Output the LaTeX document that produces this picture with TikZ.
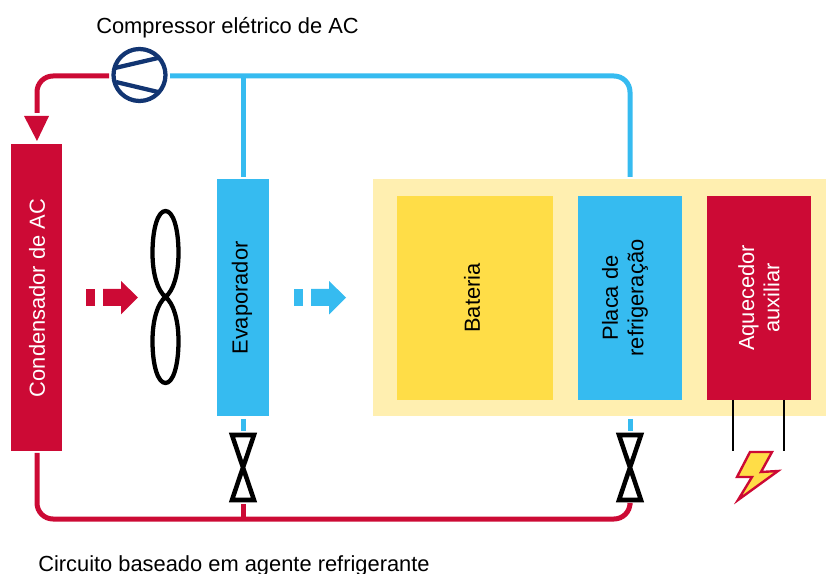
\documentclass[tikz,border=0pt]{standalone}
\usepackage{fontspec}
\setmainfont{Liberation Sans}
\definecolor{cred}{HTML}{CC0A35}
\definecolor{cblue}{HTML}{36BBF0}
\definecolor{cyel}{HTML}{FFDD47}
\definecolor{cpale}{HTML}{FFEFB0}
\definecolor{cnavy}{HTML}{123572}
\tikzset{
  x=0.75pt,y=-0.75pt,
  vlabel/.style={rotate=90,font=\fontsize{16.4}{19}\selectfont,align=center,inner sep=0pt},
  redline/.style={draw=cred,line width=3.75pt,rounded corners=12pt},
  blueline/.style={draw=cblue,line width=3.75pt,rounded corners=12pt},
  valve/.style={draw=black,line width=3.4pt,miter limit=6},
  blockarrow/.style={fill=#1,draw=none},
  caption/.style={font=\fontsize{16.4}{19}\selectfont,anchor=base west,inner sep=0pt}
}
\newcommand{\rectnode}[6]{% name,color,x0,y0,x1,y1
  \path[fill=#2] (#3,#4) rectangle (#5,#6);
  \coordinate (#1) at ({(#3+#5)/2},{(#4+#6)/2});
}
\begin{document}
\begin{tikzpicture}
\useasboundingbox (0,0) rectangle (826,574);
% rectangles
\rectnode{bg}{cpale}{373}{179}{826}{416}
\rectnode{cond}{cred}{11}{144}{62}{451}
\rectnode{evap}{cblue}{217}{179}{269}{416}
\rectnode{bat}{cyel}{397}{196}{553}{400}
\rectnode{placa}{cblue}{578}{196}{682}{400}
\rectnode{aq}{cred}{707}{196}{811}{400}
% labels
\node[vlabel,text=white] (lcond) at (37,298) {Condensador de AC};
\node[vlabel] (levap) at (242,298) {Evaporador};
\node[vlabel] (lbat) at (472,298) {Bateria};
\node[vlabel] (lplaca) at (625,298) {Placa de\\refrigeração};
\node[vlabel,text=white] (laq) at (759,298) {Aquecedor\\auxiliar};
\node[caption] (tcomp) at (96,34) {Compressor elétrico de AC};
\node[caption] (tcirc) at (38,571) {Circuito baseado em agente refrigerante};
% compressor
\node[circle,draw=cnavy,line width=3.2pt,minimum size=39pt,inner sep=0pt,fill=white] (comp) at (139.5,75) {};
\draw[cnavy,line width=3.2pt] (115,68) -- (158,58);
\draw[cnavy,line width=3.2pt] (116,82) -- (158,92);
% valves
\coordinate (v1) at (243,467);
\coordinate (v2) at (630,467);
\draw[valve] (232,435) -- (254,435) -- (232,500) -- (254,500) -- cycle;
\draw[valve] (619,435) -- (641,435) -- (619,500) -- (641,500) -- cycle;
% lines
\coordinate (rs) at (109,76);
\coordinate (re) at (37,113);
\draw[redline] (rs) -| (re);
\path[fill=cred] (24,116) -- (49,116) -- (37,141) -- cycle;
\coordinate (bs) at (170,76);
\coordinate (be) at (630,177);
\draw[blueline] (bs) -| (be);
\draw[blueline,rounded corners=0pt] (243,76) -- (243,177);
\coordinate (rb) at (37,453);
\coordinate (rt) at (630,505);
\draw[redline] (rb) |- (630,519) -- (rt);
\draw[redline,rounded corners=0pt] (243,519) -- (243,504);
\draw[blueline,rounded corners=0pt] (243,419) -- (243,431);
\draw[blueline,rounded corners=0pt] (630,419) -- (630,431);
% fan
\draw[black,line width=3.2pt] (165.5,297) .. controls (158,291) and (152.5,275) .. (152.5,253) .. controls (152.5,228) and (158,211) .. (165.5,211) .. controls (173,211) and (178.5,228) .. (178.5,253) .. controls (178.5,275) and (173,291) .. (165.5,297) -- cycle;
\draw[black,line width=3.2pt] (165.5,297) .. controls (158,303) and (152.5,319) .. (152.5,341) .. controls (152.5,366) and (158,383) .. (165.5,383) .. controls (173,383) and (178.5,366) .. (178.5,341) .. controls (178.5,319) and (173,303) .. (165.5,297) -- cycle;
% block arrows
\path[blockarrow=cred] (86,289) rectangle (95,306);
\path[blockarrow=cred] (103,289) -- (121,289) -- (121,281) -- (138,297.5) -- (121,314.5) -- (121,306) -- (103,306) -- cycle;
\path[blockarrow=cblue] (294,289) rectangle (303,306);
\path[blockarrow=cblue] (311,289) -- (329,289) -- (329,281) -- (346,297.5) -- (329,314.5) -- (329,306) -- (311,306) -- cycle;
% wires
\draw[black,line width=2pt] (733,400) -- (733,451);
\draw[black,line width=2pt] (784,400) -- (784,451);
% bolt
\draw[draw=cred,fill=cyel,line width=1.8pt,miter limit=8] (750,452) -- (772,452) -- (761,472) -- (778,471) -- (738,500) -- (752,477) -- (737,477) -- cycle;
\end{tikzpicture}
\end{document}
